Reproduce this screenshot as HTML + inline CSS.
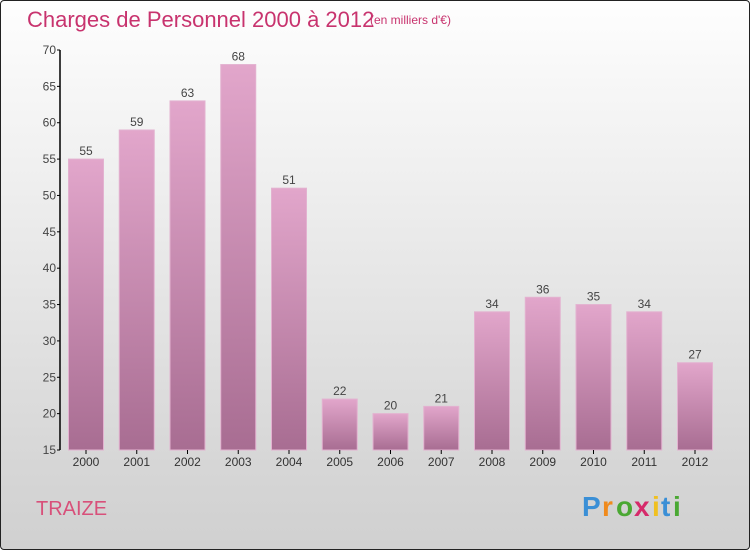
<!DOCTYPE html>
<html><head><meta charset="utf-8"><style>
body{margin:0;width:750px;height:550px;overflow:hidden;font-family:"Liberation Sans",sans-serif}
#frame{position:absolute;left:0;top:0;width:748px;height:548px;border:1px solid #222;border-radius:4px;background:linear-gradient(#fefefe,#f0f0f0 30%,#d6d6d6 85%,#d0d0d0)}
</style></head><body>
<div id="frame"></div>
<svg width="750" height="550" style="position:absolute;left:0;top:0">
<defs>
<linearGradient id="bg" x1="0" y1="0" x2="0" y2="1"><stop offset="0" stop-color="#e2a6cb"/><stop offset="1" stop-color="#a86d92"/></linearGradient>
</defs>
<text x="27" y="27" font-size="22" fill="#c8336e">Charges de Personnel 2000 à 2012</text>
<text x="370" y="24" font-size="12" fill="#c8336e">(en milliers d'€)</text>
<g id="plot"></g>
<text x="36" y="515" font-size="20" fill="#d8507a">TRAIZE</text>
<g font-size="28" font-weight="bold">
<text x="582" y="516" fill="#3a8fd6">P</text><text x="602" y="516" fill="#f08a1c">r</text><text x="616" y="516" fill="#4aa833">o</text><text x="634" y="516" fill="#d62a6a">x</text><text x="652" y="516" fill="#f0c020">i</text><text x="661" y="516" fill="#3a8fd6">t</text><text x="673" y="516" fill="#4aa833">i</text>
</g>
</svg>
<script>
const categories=["2000","2001","2002","2003","2004","2005","2006","2007","2008","2009","2010","2011","2012"];
const values=[55,59,63,68,51,22,20,21,34,36,35,34,27];
const yTicks=[15,20,25,30,35,40,45,50,55,60,65,70];
const NS="http://www.w3.org/2000/svg";
const g=document.getElementById('plot');
const y0=450,y1=50,vmin=15,vmax=70,x0=60,slot=50.75,bw=35;
function y(v){return y0-(v-vmin)/(vmax-vmin)*(y0-y1);}
function xc(i){return 86+i*slot;}
function mk(t,a){const e=document.createElementNS(NS,t);for(const k in a)e.setAttribute(k,a[k]);g.appendChild(e);return e;}
let ax=mk('line',{x1:x0,y1:y1,x2:x0,y2:y0,stroke:'#000','stroke-width':1.5});


yTicks.forEach(v=>{
 const t=mk('line',{x1:x0-3,x2:x0,y1:y(v),y2:y(v),stroke:'#000'});
 
 
 const l=mk('text',{x:x0-4,y:y(v)+4,'font-size':12,fill:'#444','text-anchor':'end'});
 l.textContent=v;
 
 
});
categories.forEach((c,i)=>{
 const cx=xc(i),v=values[i];
 const r=mk('rect',{x:cx-bw/2,y:y(v),width:bw,height:y0-y(v),fill:'url(#bg)',stroke:'#e3b2d0','stroke-width':1});
 
 
 const t=mk('line',{x1:cx,x2:cx,y1:y0,y2:y0+4,stroke:'#000'});
 
 
 const l=mk('text',{x:cx,y:y0+16,'font-size':12,fill:'#333','text-anchor':'middle'});
 l.textContent=c;
 
 
 const vl=mk('text',{x:cx,y:y(v)-4,'font-size':12,fill:'#444','text-anchor':'middle'});
 vl.textContent=v;
 
 
});
</script>
</body></html>
